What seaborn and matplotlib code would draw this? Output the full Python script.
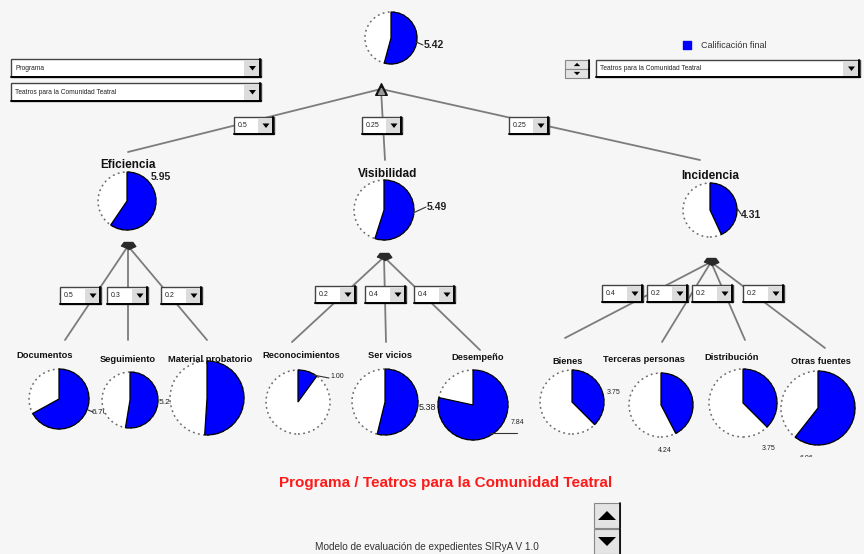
import matplotlib
matplotlib.use("Agg")
import matplotlib.pyplot as plt
from matplotlib.patches import Circle, Rectangle, Polygon
import seaborn as sns

# --- data ---------------------------------------------------------------
title = "Programa / Teatros para la Comunidad Teatral"
footer = "Modelo de evaluación de expedientes SIRyA V 1.0"
program_type = "Programa"
program_name = "Teatros para la Comunidad Teatral"
legend_label = "Calificación final"

total_score = 5.42
criteria = ["Eficiencia", "Visibilidad", "Incidencia"]
criteria_scores = [5.95, 5.49, 4.31]
criteria_weights = ["0.5", "0.25", "0.25"]

sub_names = [
    ["Documentos", "Seguimiento", "Material probatorio"],
    ["Reconocimientos", "Ser vicios", "Desempeño"],
    ["Bienes", "Terceras personas", "Distribución", "Otras fuentes"],
]
sub_scores = [
    [6.70, 5.26, 5.10],
    [1.00, 5.38, 7.84],
    [3.75, 4.24, 3.75, 6.06],
]
sub_weights = [
    ["0.5", "0.3", "0.2"],
    ["0.2", "0.4", "0.4"],
    ["0.4", "0.2", "0.2", "0.2"],
]

# --- layout (pixel positions of the tree nodes, measured from the top) --
W, H = 864, 554
root_node = dict(c=(391, 38), r=26, val=(424, 45), lead=((416, 42), (423, 45)))
top_junction = (381, 89)
l2_nodes = [
    dict(c=(127, 201), r=29, lab=(128, 165), val=(151, 177), lead=None,
         junc=(128, 246), tip=(128, 152), box=(234, 117)),
    dict(c=(384, 210), r=30, lab=(388, 174), val=(427, 207), lead=((413, 213), (426, 207)),
         junc=(384, 257), tip=(385, 160), box=(362, 117)),
    dict(c=(710, 210), r=27, lab=(710, 176), val=(741, 215), lead=((737, 208), (741, 214)),
         junc=(711, 262), tip=(700, 160), box=(509, 117)),
]
l3_nodes = [
    [dict(c=(59, 399), r=30, lab=(45, 355), val=(92, 412), fs=6.0, lead=((88, 410), (93, 412)),
          box=(60, 287), tip=(65, 340)),
     dict(c=(130, 400), r=28, lab=(128, 359), val=(159, 402), fs=6.0, lead=None,
          box=(107, 287), tip=(128, 340)),
     dict(c=(207, 398), r=37, lab=(210, 359), val=None, fs=6.0, lead=None,
          box=(161, 287), tip=(207, 340))],
    [dict(c=(298, 402), r=32, lab=(301, 356), val=(330, 377), fs=5.0, lead=((313, 375), (329, 378)),
          box=(315, 286), tip=(292, 342)),
     dict(c=(385, 402), r=33, lab=(390, 356), val=(419, 408), fs=6.5, lead=None,
          box=(365, 286), tip=(386, 342)),
     dict(c=(473, 405), r=35, lab=(478, 357), val=(511, 423), fs=5.0, lead=((490, 433), (517, 433)),
          box=(414, 286), tip=(480, 350))],
    [dict(c=(572, 402), r=32, lab=(568, 361), val=(607, 393), fs=5.0, lead=None,
          box=(602, 285), tip=(565, 338)),
     dict(c=(661, 405), r=32, lab=(644, 359), val=(658, 450), fs=5.0, lead=None,
          box=(647, 285), tip=(662, 342)),
     dict(c=(743, 403), r=34, lab=(732, 357), val=(762, 448), fs=5.0, lead=None,
          box=(692, 285), tip=(745, 340)),
     dict(c=(818, 408), r=37, lab=(821, 362), val=(800, 458), fs=5.0, lead=None,
          box=(743, 285), tip=(825, 348))],
]
panel_bottom = 457

sns.set_style("white")
plt.rcParams["font.family"] = ["Liberation Sans", "DejaVu Sans"]
blue = sns.color_palette(["#0000ff"])[0]
line_col = "#7c7c7c"
bg = "#f6f6f6"


def Y(py):
    return H - py


fig = plt.figure(figsize=(W / 100, H / 100), dpi=100, facecolor=bg)
ax = fig.add_axes([0, 0, 1, 1])
ax.set_facecolor(bg)

panel_clip = Rectangle((0, Y(panel_bottom)), W, panel_bottom, transform=ax.transData)


def dropdown(x, y, w, h, text, fs=4.8, bw=17):
    ax.add_patch(Rectangle((x, Y(y + h)), w, h, fc="white", ec="#444444", lw=1.0, zorder=6))
    ax.add_patch(Rectangle((x + w - bw, Y(y + h) + 1), bw - 1, h - 2, fc="#dcdcdc", ec="none", zorder=6.1))
    ax.plot([x + w - 1, x + w - 1], [Y(y + h), Y(y)], color="black", lw=1.4, zorder=6.2)
    ax.plot([x, x + w], [Y(y + h), Y(y + h)], color="black", lw=1.4, zorder=6.2)
    cx, cy = x + w - bw / 2, Y(y + h / 2)
    ax.add_patch(Polygon([(cx - 3.5, cy + 2), (cx + 3.5, cy + 2), (cx, cy - 2.5)],
                         fc="black", ec="none", zorder=6.3))
    ax.text(x + 4, cy, text, fontsize=fs, va="center", ha="left", color="#222222", zorder=6.3)


def spin_button(x, y, w, h, up):
    ax.add_patch(Rectangle((x, Y(y + h)), w, h, fc="#e4e4e4", ec="#888888", lw=0.8, zorder=6))
    ax.plot([x + w, x + w], [Y(y + h), Y(y)], color="black", lw=1.2, zorder=6.1)
    cx, cy = x + w / 2, Y(y + h / 2)
    s = h * 0.18
    if up:
        pts = [(cx - 2 * s, cy - s), (cx + 2 * s, cy - s), (cx, cy + s)]
    else:
        pts = [(cx - 2 * s, cy + s), (cx + 2 * s, cy + s), (cx, cy - s)]
    ax.add_patch(Polygon(pts, fc="black", ec="none", zorder=6.2))


def pie_node(node, score, z, label_fs=7.5, bold=True, text=None, clip=False):
    cx, cy = node["c"][0], Y(node["c"][1])
    r = node["r"]
    ax.add_patch(Circle((cx, cy), r, fc="white", ec="none", zorder=z))
    ax.add_patch(Circle((cx, cy), r, fill=False, ec="#6a6a6a", lw=1.1,
                        ls=(0, (1.2, 2.2)), zorder=z + 0.1))
    frac = score / 10
    wedges, _ = ax.pie([frac, 1 - frac], colors=[blue, "white"], radius=r, center=(cx, cy),
                       startangle=90, counterclock=False,
                       wedgeprops=dict(ec="black", lw=0.9))
    wedges[0].set_zorder(z + 0.2)
    wedges[1].set_visible(False)
    if node.get("lead"):
        (x1, y1), (x2, y2) = node["lead"]
        ax.plot([x1, x2], [Y(y1), Y(y2)], color="#333333", lw=0.8, zorder=z + 0.3)
    if node.get("val"):
        t = ax.text(node["val"][0], Y(node["val"][1]), text if text else f"{score:.2f}",
                    fontsize=label_fs, fontweight="bold" if bold else "normal",
                    color="#222222", va="center", ha="left", zorder=z + 0.4)
        if clip:
            t.set_clip_on(True)
            t.set_clip_path(panel_clip)


# connectors: root -> criteria
for node in l2_nodes:
    ax.plot([top_junction[0], node["tip"][0]], [Y(top_junction[1]), Y(node["tip"][1])],
            color=line_col, lw=1.3, zorder=2)
# connectors: criteria -> sub-criteria
for node, group in zip(l2_nodes, l3_nodes):
    for leaf in group:
        ax.plot([node["junc"][0], leaf["tip"][0]], [Y(node["junc"][1]), Y(leaf["tip"][1])],
                color=line_col, lw=1.3, zorder=2)

# junction markers
ax.scatter([top_junction[0]], [Y(top_junction[1])], marker="^", s=70, color="#111111", zorder=3)
ax.scatter([top_junction[0]], [Y(top_junction[1]) - 2], marker="^", s=18, color="#9a9a9a", zorder=3.1)
hat = [(-1, 0), (-0.6, 0.55), (0.6, 0.55), (1, 0), (0, -0.45)]
ax.scatter([n["junc"][0] for n in l2_nodes], [Y(n["junc"][1]) for n in l2_nodes],
           marker=hat, s=110, color="#2a2a2a", zorder=3)

# weight boxes
for node, w in zip(l2_nodes, criteria_weights):
    dropdown(node["box"][0], node["box"][1], 40, 17, w, fs=5.0, bw=16)
for group, weights in zip(l3_nodes, sub_weights):
    for leaf, w in zip(group, weights):
        dropdown(leaf["box"][0], leaf["box"][1], 41, 17, w, fs=5.0, bw=16)

# pies
zc = 10
pie_node(root_node, total_score, zc, label_fs=7.5)
zc += 1
for node, name, score in zip(l2_nodes, criteria, criteria_scores):
    pie_node(node, score, zc, label_fs=7.5)
    ax.text(node["lab"][0], Y(node["lab"][1]), name, fontsize=8.5, fontweight="bold",
            color="#111111", ha="center", va="center", zorder=zc + 0.5)
    zc += 1
for group, names, scores in zip(l3_nodes, sub_names, sub_scores):
    for leaf, name, score in zip(group, names, scores):
        clip = leaf["val"] is not None and leaf["val"][1] > panel_bottom - 4
        pie_node(leaf, score, zc, label_fs=leaf["fs"], bold=False, clip=clip)
        ax.text(leaf["lab"][0], Y(leaf["lab"][1]), name, fontsize=6.7, fontweight="bold",
                color="#111111", ha="center", va="center", zorder=zc + 0.5)
        zc += 1

# controls
dropdown(11, 59, 250, 18, program_type, fs=4.8)
dropdown(11, 83, 250, 18, program_name, fs=4.8)
dropdown(596, 60, 264, 17, program_name, fs=4.8)
spin_button(565, 60, 24, 9, True)
spin_button(565, 69, 24, 9, False)

ax.scatter([687], [Y(45)], marker="s", s=30, color=blue, zorder=5)
ax.text(701, Y(45), legend_label, fontsize=6.5, color="#333333", va="center", ha="left")

ax.text(446, Y(483), title, fontsize=11, fontweight="bold", color="#ff1a1a",
        ha="center", va="center")
ax.text(315, Y(547), footer, fontsize=7.2, color="#333333", ha="left", va="center")
spin_button(594, 503, 26, 25, True)
spin_button(594, 529, 26, 25, False)

ax.set_xlim(0, W)
ax.set_ylim(0, H)
ax.set_aspect("equal")
ax.axis("off")

fig.savefig("out.png", dpi=100, facecolor=bg)
